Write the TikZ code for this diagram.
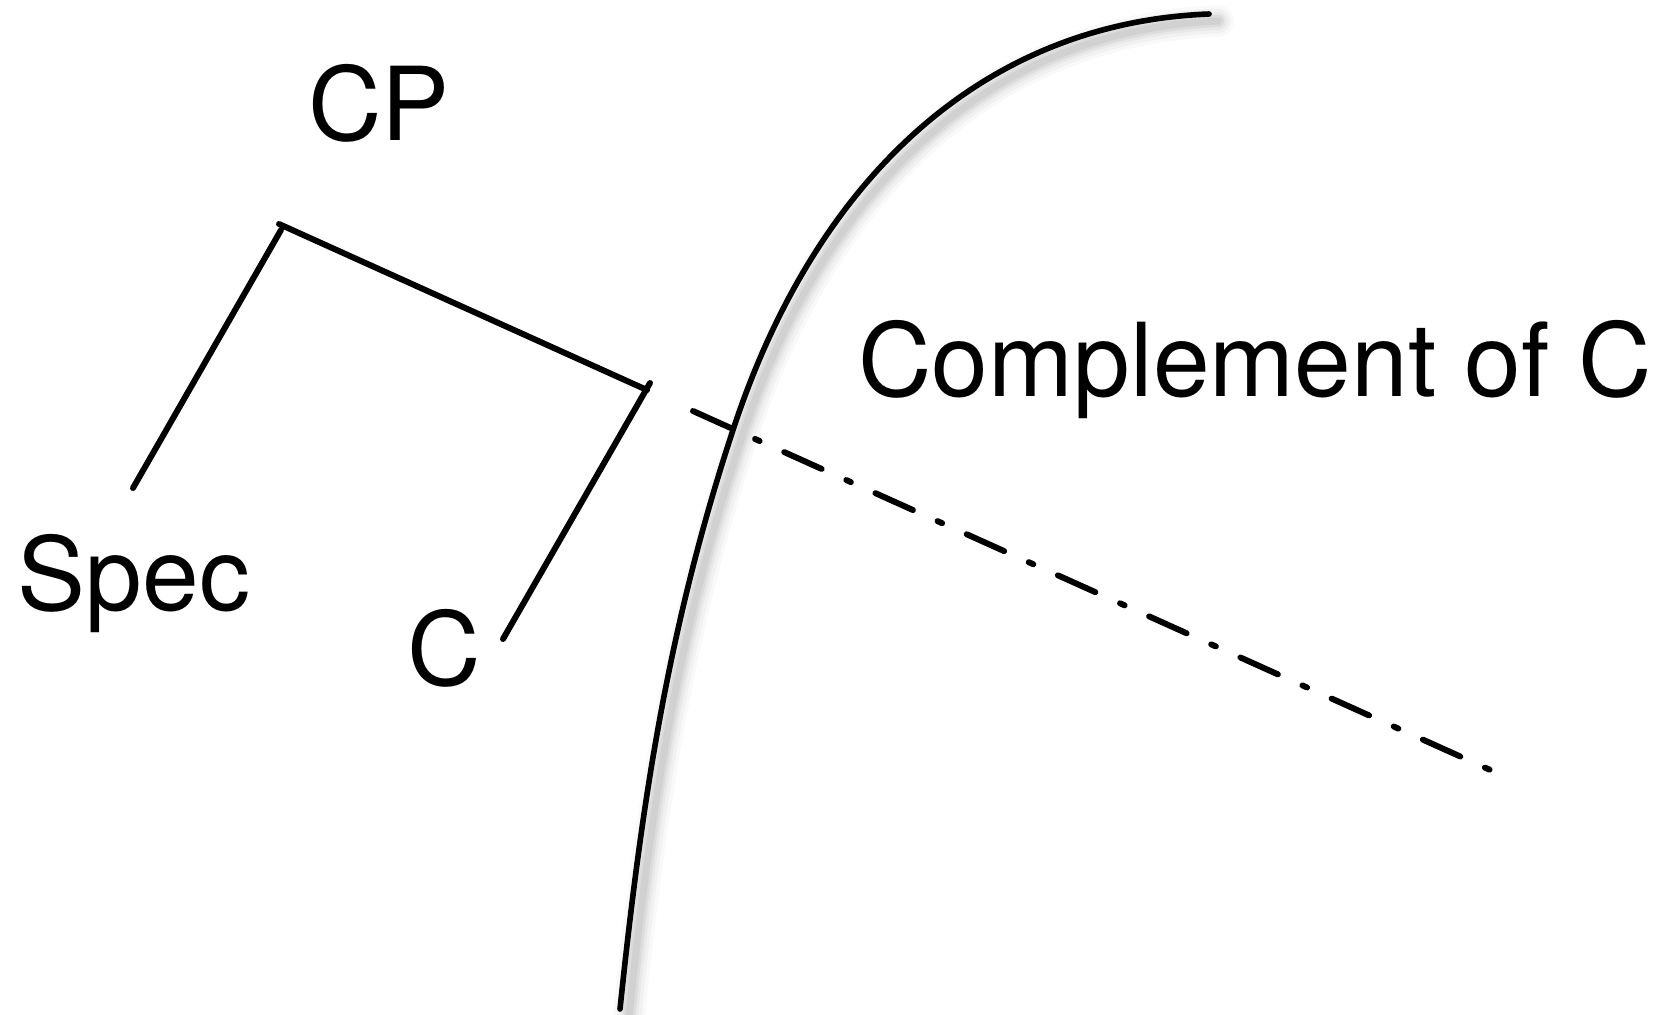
\documentclass[tikz,border=0pt]{standalone}
\usepackage{fontspec}
\setmainfont{TeX Gyre Heros}
\usetikzlibrary{positioning}

\newcommand{\borderpath}{(620,1009) .. controls (641,809) and (667,630) .. (733,430) .. controls (814,183) and (979,23) .. (1209,14)}

\begin{document}
\begin{tikzpicture}[
    x=0.01cm, y=-0.01cm,
    label/.style={inner sep=0pt, anchor=base, font=\fontsize{29}{35}\selectfont},
    branch/.style={line width=1.7pt, line cap=round},
    border/.style={line width=1.6pt, line cap=round},
    shadowline/.style={line cap=round, black},
    projection/.style={line width=1.7pt, line cap=round, dash pattern=on 4.1mm off 2.7mm on 0.5mm off 2.7mm}
]
\useasboundingbox (0,0) rectangle (1658,1014);

% Labels
\node[label] (cp) at (379,140) {CP};
\node[label] (spec) at (134,610) {Spec};
\node[label] (c) at (444,685) {C};
\node[label] (compl) at (1255,396) {Complement of C};

% Tree points
\coordinate (top) at (279,224);
\coordinate (spec-start) at (281,230);
\coordinate (spec-end) at (133,488);
\coordinate (bar-end) at (647,390);
\coordinate (c-start) at (650,383);
\coordinate (c-end) at (503,639);
\coordinate (proj-start) at (693,411);
\coordinate (proj-end) at (1497,773);

% Tree
\draw[branch] (top) -- (bar-end);
\draw[branch] (spec-start) -- (spec-end);
\draw[branch] (c-start) -- (c-end);

% Boundary with soft shadow
\foreach \w/\o in {9/0.025, 7/0.03, 5/0.04, 3.5/0.05, 2/0.05}
    \draw[shadowline, line width=\w pt, opacity=\o, shift={(9,7)}] \borderpath;
\draw[border] \borderpath;

% Projection line
\draw[projection] (proj-start) -- (proj-end);

\end{tikzpicture}
\end{document}
